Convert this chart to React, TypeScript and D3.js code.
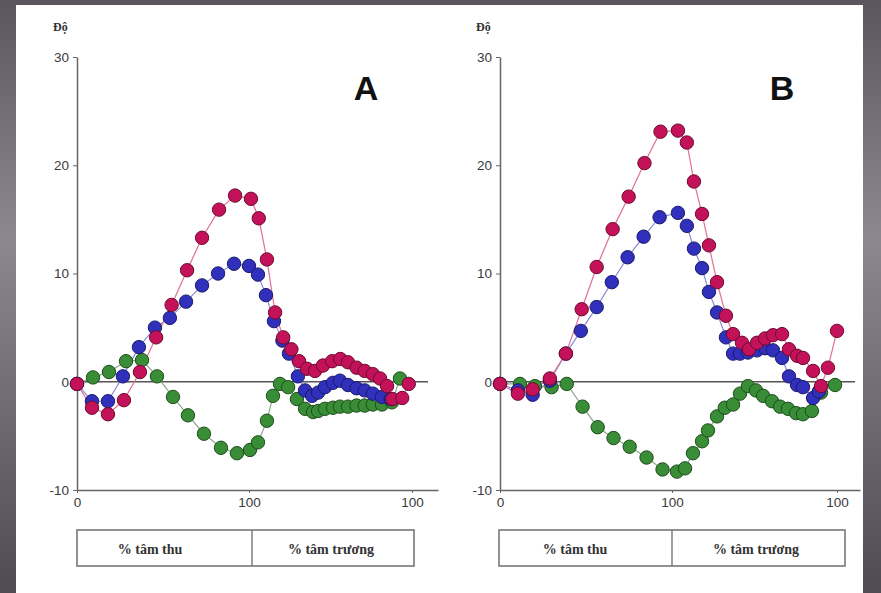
import React, { useEffect, useRef } from 'react'
import * as d3 from 'd3'

// x: 0-100 = % tâm thu, 100-200 = 100 + % tâm trương ; y = độ
const yTicks = [-10, 0, 10, 20, 30]
const xTickValues = [0, 100, 200]
const xTickLabels = ['0', '100', '100']
const phaseLabels = ['% tâm thu', '% tâm trương']
const yUnit = 'Độ'
const panelNames = ['A', 'B']

const redA: [number, number][] = [
  [0, -0.2], [8.7, -2.4], [18, -3.0], [27.3, -1.7], [36.6, 0.9], [46, 4.1], [55, 7.1], [64, 10.3],
  [72.7, 13.3], [82.6, 15.9], [91.9, 17.2], [101.2, 16.9], [106, 15.1], [111, 11.3], [116, 6.4],
  [121, 4.1], [126, 3.0], [130.7, 1.9], [135.6, 1.2], [140.5, 1.0], [145.4, 1.5], [151, 1.9],
  [156, 2.1], [160.7, 1.8], [166, 1.3], [171, 1.0], [176, 0.7], [180.4, 0.3], [184.7, -0.4],
  [188, -1.6], [194, -1.5], [198, -0.2]
]
const blueA: [number, number][] = [
  [0, -0.2], [8.7, -1.8], [18, -1.8], [26.7, 0.5], [36, 3.2], [45.3, 5.0], [54, 5.9], [63.4, 7.4],
  [72.7, 8.9], [82, 10.0], [91.3, 10.9], [100, 10.7], [105.5, 9.9], [110.4, 8.0], [115.3, 5.6],
  [120.5, 3.8], [124.5, 2.6], [130, 0.5], [134.4, -0.8], [138.7, -1.3], [142.4, -1.0], [146.6, -0.5],
  [151.5, -0.1], [155.8, 0.1], [160.7, -0.3], [166, -0.6], [171, -0.8], [176, -1.1], [181.6, -1.4],
  [187, -1.6]
]
const greenA: [number, number][] = [
  [0, -0.2], [9.3, 0.4], [18.6, 0.9], [28.5, 1.9], [37.8, 2.0], [46.5, 0.5], [55.8, -1.4], [64.5, -3.1],
  [73.8, -4.8], [83.7, -6.1], [93, -6.6], [100.6, -6.3], [105.5, -5.6], [111, -3.6], [114.7, -1.3],
  [119, -0.2], [124, -0.5], [129.4, -1.6], [134.4, -2.5], [139.3, -2.8], [142.4, -2.7], [146.6, -2.5],
  [151.5, -2.4], [155.8, -2.3], [160.7, -2.3], [166, -2.2], [171, -2.2], [176, -2.1], [181.6, -2.1],
  [187.7, -1.9], [192.6, 0.3]
]

const redB: [number, number][] = [
  [0, -0.2], [10.4, -1.1], [19, -0.7], [29, 0.3], [38.3, 2.6], [47.5, 6.7], [56.2, 10.6], [65.5, 14.1],
  [74.8, 17.1], [84, 20.2], [93.3, 23.1], [103.6, 23.2], [109, 22.1], [113.3, 18.5], [118.2, 15.5],
  [122.4, 12.6], [127.3, 9.2], [132.7, 6.1], [137, 4.4], [142.4, 3.6], [146.7, 3.0], [151.5, 3.6],
  [156.4, 4.0], [161.2, 4.3], [166.7, 4.4], [170.9, 3.0], [175.8, 2.4], [179.4, 2.2], [185.5, 1.0],
  [190.3, -0.4], [194.5, 1.3], [200, 4.7]
]
const blueB: [number, number][] = [
  [0, -0.2], [10.4, -0.8], [19, -1.2], [29, 0.1], [38.3, 2.6], [47, 4.7], [56.2, 6.9], [65, 9.2],
  [74.2, 11.5], [83.5, 13.4], [92.8, 15.2], [103.6, 15.6], [109, 14.4], [113.3, 12.3], [118.2, 10.5],
  [122.4, 8.3], [127.3, 6.4], [132.7, 4.1], [137, 2.6], [141.2, 2.6], [146, 2.7], [151.5, 2.9],
  [156.4, 3.1], [161.2, 2.9], [166.7, 2.2], [170.9, 0.5], [175.8, -0.3], [179.4, -0.5], [185.5, -1.5],
  [189, -0.9]
]
const greenB: [number, number][] = [
  [0, -0.2], [11.6, -0.2], [20.3, -0.4], [30, -0.5], [38.8, -0.2], [48, -2.3], [56.8, -4.2], [66, -5.2],
  [75.4, -6.0], [85.2, -7.0], [94.5, -8.1], [103, -8.3], [107.9, -8.0], [112.7, -6.6], [118.2, -5.5],
  [121.8, -4.5], [127.3, -3.2], [132, -2.4], [137, -2.1], [141.2, -1.1], [146, -0.4], [150.9, -0.8],
  [155.2, -1.3], [160.6, -1.8], [165.5, -2.3], [170.3, -2.5], [175.2, -2.9], [179.4, -3.0], [184.8, -2.7],
  [190.3, -1.0], [198.8, -0.3]
]

const seriesA = [greenA, blueA, redA]
const seriesB = [greenB, blueB, redB]

const styles = [
  { fill: '#388d36', stroke: '#1f4d1c', line: '#8ea88c' },
  { fill: '#3030bc', stroke: '#1b1b6a', line: '#8b8bd8' },
  { fill: '#c4125a', stroke: '#6c0b30', line: '#e36f95' }
]

export default function App() {
  const ref = useRef<SVGSVGElement>(null)

  useEffect(() => {
    const svg = d3.select(ref.current)
    svg.selectAll('*').remove()

    // slide background
    const defs = svg.append('defs')
    const grad = defs.append('linearGradient').attr('id', 'bg').attr('x1', 0).attr('y1', 0).attr('x2', 0).attr('y2', 1)
    grad.append('stop').attr('offset', '0%').attr('stop-color', '#5b565d')
    grad.append('stop').attr('offset', '40%').attr('stop-color', '#8c8892')
    grad.append('stop').attr('offset', '100%').attr('stop-color', '#4f4b52')
    svg.append('rect').attr('width', 881).attr('height', 593).attr('fill', 'url(#bg)')
    svg.append('rect').attr('x', 16).attr('y', 5).attr('width', 847).attr('height', 588).attr('fill', '#ffffff')

    const panels = [
      { name: panelNames[0], data: seriesA, xRange: [77, 249, 412, 438], xDom: [0, 100, 200, 216], zeroEnd: 428, box: [77, 252, 414], labelX: [150, 331], unitX: 53, letterX: 366 },
      { name: panelNames[1], data: seriesB, xRange: [500, 672, 837, 860], xDom: [0, 100, 200, 214], zeroEnd: 855, box: [499, 672, 845], labelX: [575, 756], unitX: 476, letterX: 782 }
    ]

    panels.forEach(p => {
      const g = svg.append('g')
      const x = d3.scaleLinear().domain(p.xDom).range(p.xRange)
      const y = d3.scaleLinear().domain([-10, 30]).range([490, 57])

      // y axis
      const ya = g.append('g')
        .attr('transform', 'translate(' + p.xRange[0] + ',0)')
        .call(d3.axisLeft(y).tickValues(yTicks).tickFormat(d => String(d)).tickSize(4).tickSizeOuter(0).tickPadding(4))
      ya.select('.domain').attr('stroke', '#666').attr('stroke-width', 1.5)
      ya.selectAll('line').attr('stroke', '#666')
      ya.selectAll('text').attr('font-family', 'Liberation Sans, Arial, sans-serif').attr('font-size', 13.5).attr('fill', '#3a3a3a')

      // x axis
      const xa = g.append('g')
        .attr('transform', 'translate(0,' + y(-10) + ')')
        .call(d3.axisBottom(x).tickValues(xTickValues).tickFormat((d, i) => xTickLabels[i]).tickSize(3).tickSizeOuter(0).tickPadding(4))
      xa.select('.domain').attr('stroke', '#666').attr('stroke-width', 1.5)
      xa.selectAll('line').attr('stroke', '#666')
      xa.selectAll('text').attr('font-family', 'Liberation Sans, Arial, sans-serif').attr('font-size', 13.5).attr('fill', '#3a3a3a')

      // zero line
      g.append('line')
        .attr('x1', x(0)).attr('x2', p.zeroEnd)
        .attr('y1', y(0)).attr('y2', y(0))
        .attr('stroke', '#555').attr('stroke-width', 1.3)

      // unit and panel letter
      g.append('text').attr('x', p.unitX).attr('y', 31)
        .attr('font-family', 'Liberation Serif, serif').attr('font-weight', 'bold').attr('font-size', 12)
        .attr('fill', '#333').text(yUnit)
      g.append('text').attr('x', p.letterX).attr('y', 100).attr('text-anchor', 'middle')
        .attr('font-family', 'Liberation Sans, Arial, sans-serif').attr('font-weight', 'bold').attr('font-size', 34)
        .attr('fill', '#111').text(p.name)

      // series
      const line = d3.line<[number, number]>().x(d => x(d[0])).y(d => y(d[1]))
      p.data.forEach((s, i) => {
        g.append('path').datum(s)
          .attr('fill', 'none').attr('stroke', styles[i].line).attr('stroke-width', 1.2)
          .attr('d', line)
      })
      p.data.forEach((s, i) => {
        g.selectAll('.dot' + i).data(s).enter().append('circle')
          .attr('cx', d => x(d[0])).attr('cy', d => y(d[1])).attr('r', 6.7)
          .attr('fill', styles[i].fill).attr('stroke', styles[i].stroke).attr('stroke-width', 1)
      })

      // phase box below
      const bx = p.box
      const boxG = g.append('g')
      boxG.append('rect').attr('x', bx[0]).attr('y', 530).attr('width', bx[2] - bx[0]).attr('height', 36)
        .attr('fill', 'none').attr('stroke', '#777').attr('stroke-width', 1.6)
      boxG.append('line').attr('x1', bx[1]).attr('x2', bx[1]).attr('y1', 530).attr('y2', 566)
        .attr('stroke', '#777').attr('stroke-width', 1.4)
      boxG.selectAll('text').data(phaseLabels).enter().append('text')
        .attr('x', (d, i) => p.labelX[i])
        .attr('y', 554).attr('text-anchor', 'middle')
        .attr('font-family', 'Liberation Serif, serif').attr('font-weight', 'bold').attr('font-size', 14)
        .attr('fill', '#333').text(d => d)
    })
  }, [])

  return (
    <svg ref={ref} width={881} height={593} style={{ position: 'absolute', left: 0, top: 0, display: 'block' }} />
  )
}
